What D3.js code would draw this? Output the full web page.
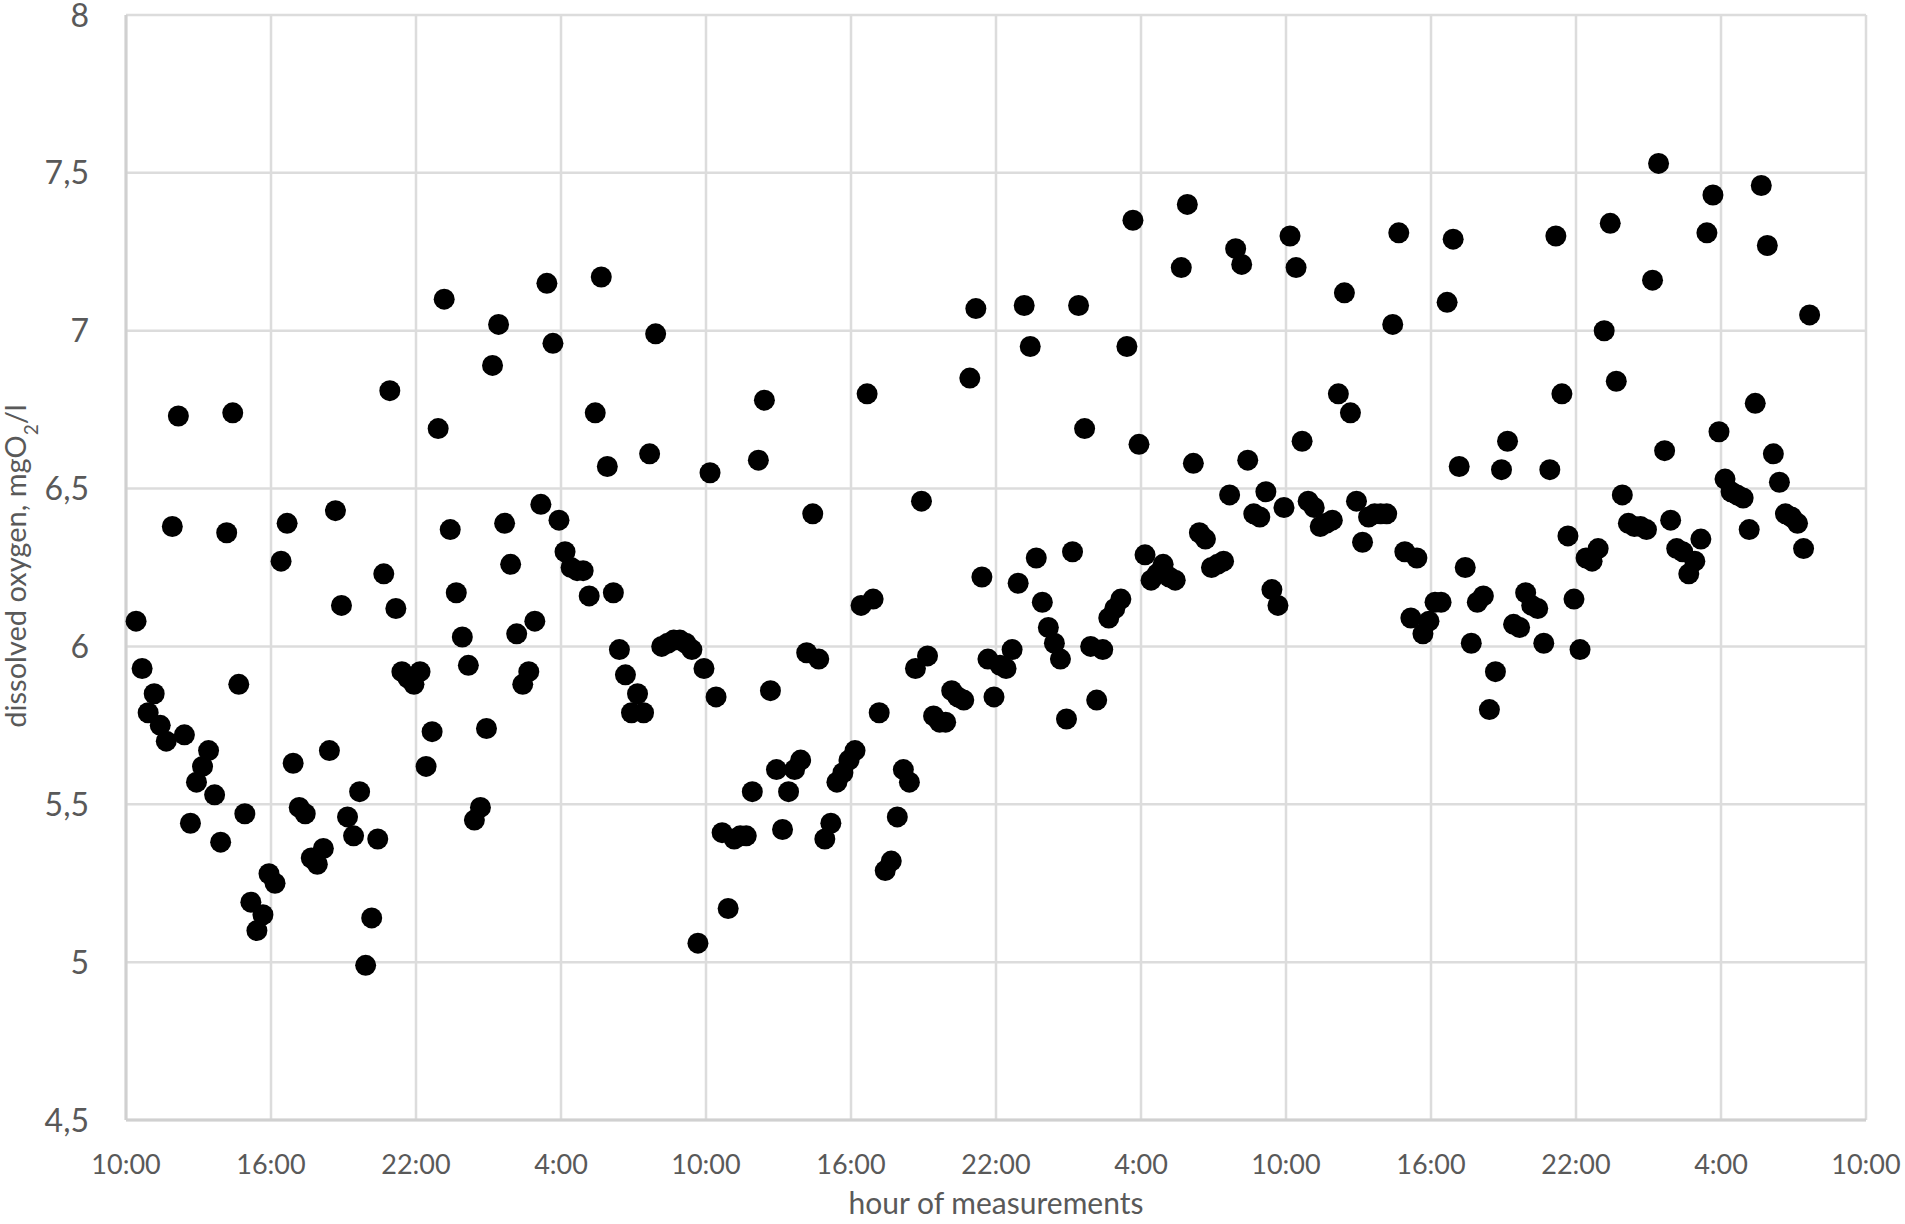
<!DOCTYPE html>
<html>
<head>
<meta charset="utf-8">
<script src="https://cdn.jsdelivr.net/npm/d3@7"></script>
<style>
    body { margin: 0; background: #fff; }
    svg { display: block; font-family: Lato, "Open Sans", sans-serif; }
</style>
</head>
<body>
<div id="chart"></div>
<script>
// dissolved oxygen readings (mgO2/l), one every 15 minutes
const oxygen = [
    6.08, 5.93, 5.79, 5.85, 5.75, 5.70, 6.38, 6.73, 5.72, 5.44,
    5.57, 5.62, 5.67, 5.53, 5.38, 6.36, 6.74, 5.88, 5.47, 5.19,
    5.10, 5.15, 5.28, 5.25, 6.27, 6.39, 5.63, 5.49, 5.47, 5.33,
    5.31, 5.36, 5.67, 6.43, 6.13, 5.46,
    5.40, 5.54, 4.99, 5.14, 5.39, 6.23, 6.81, 6.12, 5.92, 5.90,
    5.88, 5.92, 5.62, 5.73, 6.69, 7.10, 6.37, 6.17, 6.03, 5.94,
    5.45, 5.49, 5.74, 6.89, 7.02, 6.39, 6.26, 6.04, 5.88, 5.92,
    6.08, 6.45, 7.15, 6.96, 6.40,
    6.30, 6.25, 6.24, 6.24, 6.16, 6.74, 7.17, 6.57, 6.17, 5.99,
    5.91, 5.79, 5.85, 5.79, 6.61, 6.99, 6.00, 6.01, 6.02, 6.02,
    6.01, 5.99, 5.06, 5.93, 6.55, 5.84, 5.41, 5.17, 5.39, 5.40,
    5.40, 5.54, 6.59, 6.78, 5.86, 5.61,
    5.42, 5.54, 5.61, 5.64, 5.98, 6.42, 5.96, 5.39, 5.44, 5.57,
    5.60, 5.64, 5.67, 6.13, 6.80, 6.15, 5.79, 5.29, 5.32, 5.46,
    5.61, 5.57, 5.93, 6.46, 5.97, 5.78, 5.76, 5.76, 5.86, 5.84,
    5.83, 6.85, 7.07, 6.22, 5.96, 5.84,
    5.94, 5.93, 5.99, 6.20, 7.08, 6.95, 6.28, 6.14, 6.06, 6.01,
    5.96, 5.77, 6.30, 7.08, 6.69, 6.00, 5.83, 5.99, 6.09, 6.12,
    6.15, 6.95, 7.35, 6.64, 6.29, 6.21, 6.23, 6.26, 6.22, 6.21,
    7.20, 7.40, 6.58, 6.36, 6.34, 6.25, 6.26, 6.27, 6.48, 7.26,
    7.21, 6.59, 6.42, 6.41, 6.49, 6.18, 6.13, 6.44, 7.30, 7.20,
    6.65, 6.46, 6.44, 6.38, 6.39, 6.40, 6.80, 7.12, 6.74, 6.46,
    6.33, 6.41, 6.42, 6.42, 6.42, 7.02, 7.31, 6.30, 6.09, 6.28,
    6.04, 6.08, 6.14, 6.14, 7.09, 7.29, 6.57, 6.25, 6.01, 6.14,
    6.16, 5.80, 5.92, 6.56, 6.65, 6.07, 6.06, 6.17, 6.13, 6.12,
    6.01, 6.56, 7.30, 6.80, 6.35, 6.15, 5.99, 6.28, 6.27, 6.31,
    7.00, 7.34, 6.84, 6.48, 6.39, 6.38, 6.38, 6.37, 7.16, 7.53,
    6.62, 6.40, 6.31, 6.30, 6.23, 6.27, 6.34, 7.31, 7.43, 6.68,
    6.53, 6.49, 6.48, 6.47, 6.37, 6.77, 7.46, 7.27, 6.61, 6.52,
    6.42, 6.41, 6.39, 6.31, 7.05
];

const axisStart = "10:00";      // left edge of the time axis
const firstReading = "10:25";   // time of the first sample
const readingStepMinutes = 15;

const xTickLabels = ["10:00", "16:00", "22:00", "4:00", "10:00", "16:00", "22:00",
                     "4:00", "10:00", "16:00", "22:00", "4:00", "10:00"];
const xTickStepHours = 6;
const yTickValues = [4.5, 5, 5.5, 6, 6.5, 7, 7.5, 8];

const toHours = s => { const p = s.split(":"); return +p[0] + p[1] / 60; };

const width = 1905, height = 1224;
const margin = { top: 15, right: 39, bottom: 104, left: 126 };
const innerW = width - margin.left - margin.right;
const innerH = height - margin.top - margin.bottom;

const svg = d3.select("#chart").append("svg")
    .attr("width", width)
    .attr("height", height);

const g = svg.append("g")
    .attr("transform", `translate(${margin.left},${margin.top})`);

const totalHours = (xTickLabels.length - 1) * xTickStepHours;
const x = d3.scaleLinear().domain([0, totalHours]).range([0, innerW]);
const y = d3.scaleLinear().domain([4.5, 8]).range([innerH, 0]);

const offset = toHours(firstReading) - toHours(axisStart);
const points = oxygen.map((v, i) => ({ h: offset + i * readingStepMinutes / 60, v: v }));

const commaFmt = d3.formatLocale({ decimal: ",", thousands: " ", grouping: [3], currency: ["", ""] }).format("~g");

// gridlines
const xTicks = d3.range(0, totalHours + 0.001, xTickStepHours);
g.selectAll(".vgrid").data(xTicks).enter().append("line")
    .attr("x1", d => x(d)).attr("x2", d => x(d))
    .attr("y1", 0).attr("y2", innerH)
    .attr("stroke", "#dcdcdc").attr("stroke-width", 2.5);

g.selectAll(".hgrid").data(yTickValues).enter().append("line")
    .attr("x1", 0).attr("x2", innerW)
    .attr("y1", d => y(d)).attr("y2", d => y(d))
    .attr("stroke", "#dcdcdc").attr("stroke-width", 2.5);

// axis lines (a touch darker)
g.append("line").attr("x1", 0).attr("x2", 0).attr("y1", 0).attr("y2", innerH)
    .attr("stroke", "#d0d0d0").attr("stroke-width", 3);
g.append("line").attr("x1", 0).attr("x2", innerW).attr("y1", innerH).attr("y2", innerH)
    .attr("stroke", "#d0d0d0").attr("stroke-width", 3);

// y tick labels
g.selectAll(".ylab").data(yTickValues).enter().append("text")
    .attr("x", -37)
    .attr("y", d => y(d))
    .attr("dy", "0.36em")
    .attr("text-anchor", "end")
    .attr("fill", "#595959")
    .style("font-size", "32px")
    .text(d => commaFmt(d));

// x tick labels
g.selectAll(".xlab").data(xTicks).enter().append("text")
    .attr("x", d => x(d))
    .attr("y", innerH + 54)
    .attr("text-anchor", "middle")
    .attr("fill", "#595959")
    .style("font-size", "27px")
    .text((d, i) => xTickLabels[i]);

// points
g.selectAll(".dot").data(points).enter().append("circle")
    .attr("cx", d => x(d.h))
    .attr("cy", d => y(d.v))
    .attr("r", 10.5)
    .attr("fill", "#000");

// axis titles
svg.append("text")
    .attr("x", margin.left + innerW / 2)
    .attr("y", 1214)
    .attr("text-anchor", "middle")
    .attr("fill", "#595959")
    .style("font-size", "30px")
    .text("hour of measurements");

const yTitle = svg.append("text")
    .attr("transform", "translate(26,566) rotate(-90)")
    .attr("text-anchor", "middle")
    .attr("fill", "#595959")
    .style("font-size", "29px");
yTitle.append("tspan").text("dissolved oxygen, mgO");
yTitle.append("tspan").attr("baseline-shift", "sub").style("font-size", "19px").text("2");
yTitle.append("tspan").text("/l");
</script>
</body>
</html>
